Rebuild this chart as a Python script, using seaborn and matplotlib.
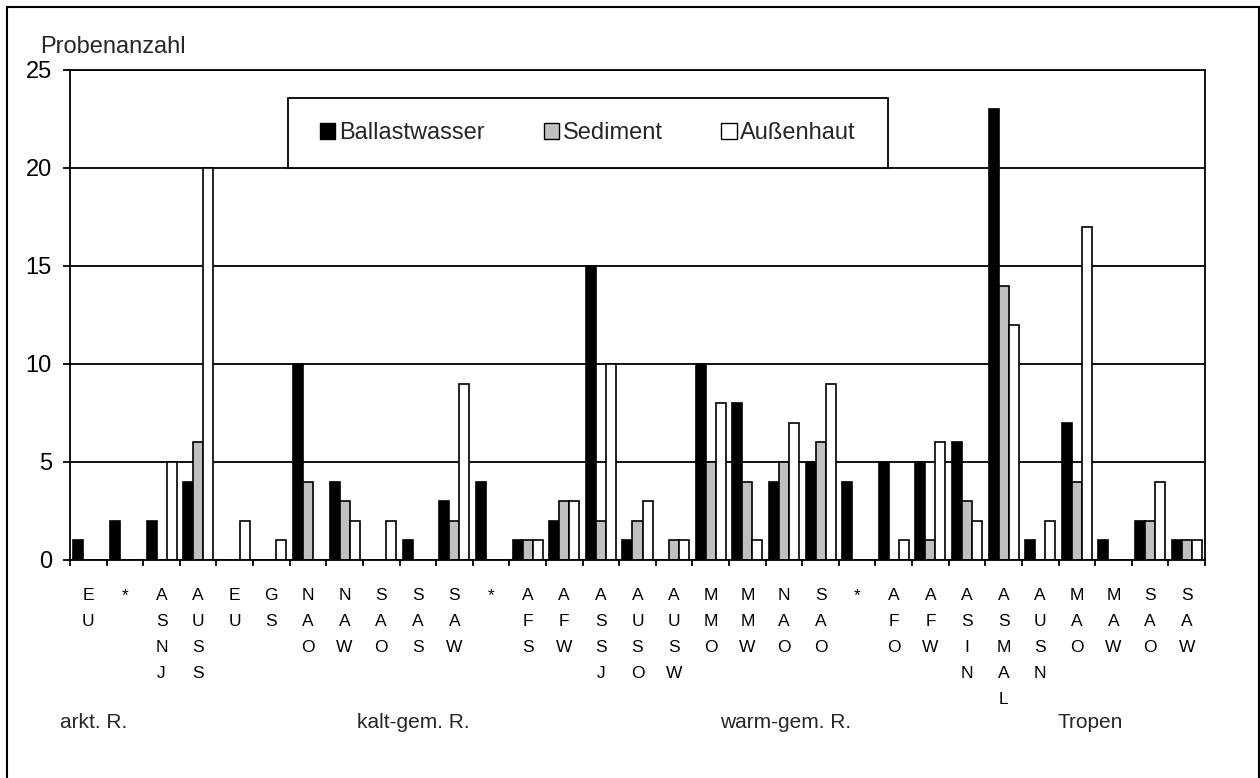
import numpy as np
import pandas as pd
import matplotlib
matplotlib.use("Agg")
import matplotlib.pyplot as plt
from matplotlib.patches import Rectangle, Patch
import seaborn as sns

# ── Daten ────────────────────────────────────────────────────
GEBIETE = ["EU", "*", "ASNJ", "AUSS", "EU", "GS", "NAO", "NAW", "SAO", "SAS", "SAW",
           "*", "AFS", "AFW", "ASSJ", "AUSO", "AUSW", "MMO", "MMW", "NAO", "SAO",
           "*", "AFO", "AFW", "ASIN", "ASMAL", "AUSN", "MAO", "MAW", "SAO", "SAW"]
BALLAST = [1, 2, 2, 4, 0, 0, 10, 4, 0, 1, 3,
           4, 1, 2, 15, 1, 0, 10, 8, 4, 5,
           4, 5, 5, 6, 23, 1, 7, 1, 2, 1]
SEDIMENT = [0, 0, 0, 6, 0, 0, 4, 3, 0, 0, 2,
            0, 1, 3, 2, 2, 1, 5, 4, 5, 6,
            0, 0, 1, 3, 14, 0, 4, 0, 2, 1]
AUSSENHAUT = [0, 0, 5, 20, 2, 1, 0, 2, 2, 0, 9,
              0, 1, 3, 10, 3, 1, 8, 1, 7, 9,
              0, 1, 6, 2, 12, 2, 17, 0, 4, 1]
SERIEN = ["Ballastwasser", "Sediment", "Außenhaut"]
FARBEN = {"Ballastwasser": "#000000", "Sediment": "#c0c0c0", "Außenhaut": "#ffffff"}
REGIONEN = ["arkt. R.", "kalt-gem. R.", "warm-gem. R.", "Tropen"]
REGION_X = [60, 357, 720, 1057]  # linke Kante in Pixel

W, H = 1260, 778

df = pd.DataFrame({"pos": range(len(GEBIETE)),
                   "Ballastwasser": BALLAST,
                   "Sediment": SEDIMENT,
                   "Außenhaut": AUSSENHAUT})
long = df.melt(id_vars="pos", var_name="Serie", value_name="Anzahl")

sns.set_theme(style="white")
plt.rcParams["font.family"] = ["Liberation Sans", "DejaVu Sans"]

fig = plt.figure(figsize=(W / 100, H / 100), dpi=100)
fig.patch.set_facecolor("white")
ax = fig.add_axes([70 / W, 1 - 560 / H, (1205 - 70) / W, (560 - 70) / H])

sns.barplot(data=long, x="pos", y="Anzahl", hue="Serie", hue_order=SERIEN,
            palette=FARBEN, saturation=1, edgecolor="black", linewidth=1.2,
            width=0.82, ax=ax, legend=False)

ax.set_xlim(-0.5, len(GEBIETE) - 0.5)
ax.set_ylim(0, 25)
ax.set_xlabel("")
ax.set_ylabel("")

# x-Achse: senkrechte Buchstaben, Teilstriche an den Grenzen
ax.set_xticks(range(len(GEBIETE)))
ax.set_xticklabels(["\n".join(g) for g in GEBIETE])
for lab in ax.get_xticklabels():
    lab.set_linespacing(1.93)
ax.set_xticks(np.arange(-0.5, len(GEBIETE), 1), minor=True)
ax.tick_params(axis="x", which="major", length=0, pad=20, labelsize=12.5, colors="black")
ax.tick_params(axis="x", which="minor", length=4, width=1.3, direction="out",
               bottom=True, color="black")

ax.set_yticks(range(0, 26, 5))
ax.tick_params(axis="y", length=5, width=1.3, direction="out", left=True,
               pad=8, labelsize=17, colors="black")
ax.yaxis.grid(True, color="black", linewidth=1.3)
ax.set_axisbelow(True)
for sp in ax.spines.values():
    sp.set_visible(True)
    sp.set_color("black")
    sp.set_linewidth(1.3)

# Legende mit eigenem Rahmen
ax.add_patch(Rectangle((288 / W, 1 - 168 / H), 600 / W, 70 / H, transform=fig.transFigure,
                       facecolor="white", edgecolor="black", linewidth=1.3,
                       zorder=4, clip_on=False))
handles = [Patch(facecolor=FARBEN[s], edgecolor="black", linewidth=1.0) for s in SERIEN]
leg = ax.legend(handles, SERIEN, ncol=3, frameon=False, fontsize=17,
                handlelength=0.65, handleheight=0.65, handletextpad=0.15,
                columnspacing=2.5, loc="center",
                bbox_to_anchor=(588 / W, 1 - 133 / H), bbox_transform=fig.transFigure)
leg.set_zorder(5)

fig.text(40 / W, 1 - 53 / H, "Probenanzahl", fontsize=17, va="baseline", ha="left")
for name, x in zip(REGIONEN, REGION_X):
    fig.text(x / W, 1 - 728 / H, name, fontsize=15, va="baseline", ha="left")

# äußerer Rahmen
fig.add_artist(Rectangle((7 / W, -0.01), (1259 - 7) / W, 1.01 - 7 / H,
                         transform=fig.transFigure, fill=False,
                         edgecolor="black", linewidth=1.5))

fig.savefig("out.png", dpi=100)
